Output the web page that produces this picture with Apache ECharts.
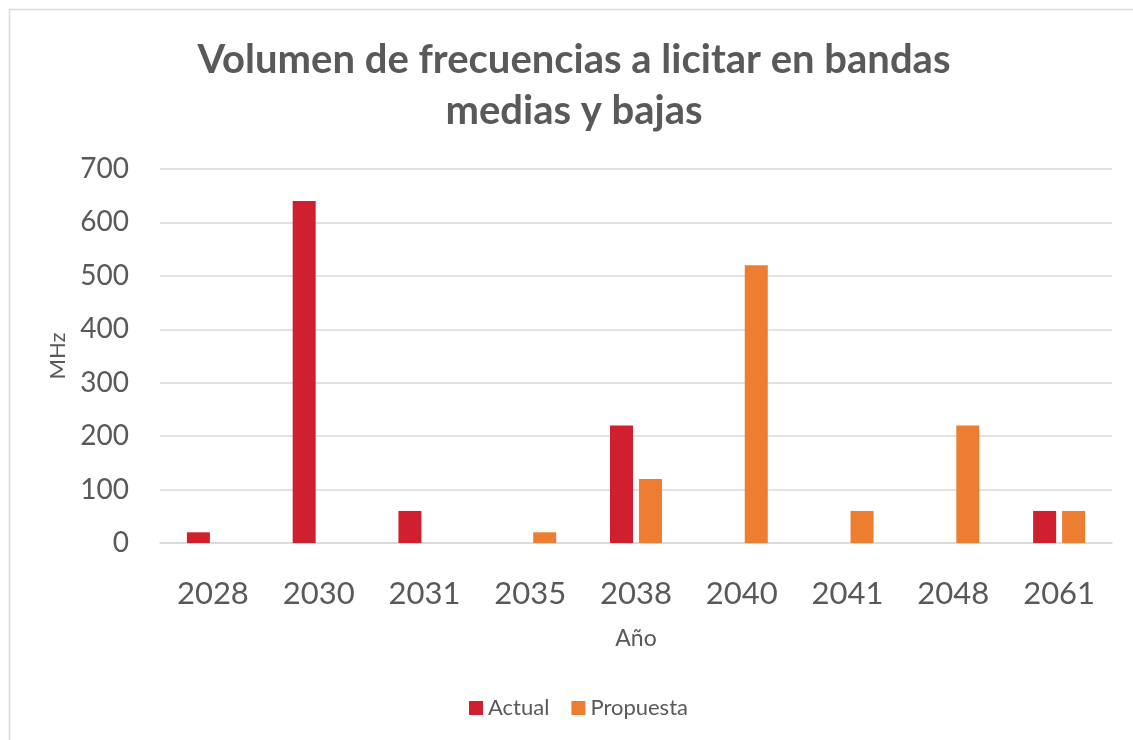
<!DOCTYPE html>
<html>
<head>
<meta charset="utf-8">
<script src="https://cdn.jsdelivr.net/npm/echarts@6/dist/echarts.min.js"></script>
<style>
html,body{margin:0;padding:0;background:#fff;}
#chart{width:1133px;height:740px;}
</style>
</head>
<body>
<div id="chart"></div>
<script>
var categories = ['2028','2030','2031','2035','2038','2040','2041','2048','2061'];
var actual =    [20, 640, 60, null, 220, null, null, null, 60];
var propuesta = [null, null, null, 20, 120, 520, 60, 220, 60];
var yTicks = { min: 0, max: 700, interval: 100 };
var titleText = 'Volumen de frecuencias a licitar en bandas\nmedias y bajas';

var font = 'Lato';
var textColor = '#595959';
var chart = echarts.init(document.getElementById('chart'));
chart.setOption({
  backgroundColor: '#ffffff',
  animation: false,
  graphic: [{
    type: 'rect', left: 7, top: 7, silent: true,
    shape: { width: 1140, height: 750 },
    style: { fill: 'none', stroke: '#d9d9d9', lineWidth: 1.5 }
  }, {
    type: 'text', x: 574, y: 35, silent: true,
    style: {
      text: titleText, textAlign: 'center', textVerticalAlign: 'top',
      fontFamily: font, fontWeight: 'bold', fontSize: 40, lineHeight: 51, fill: textColor
    }
  }],
  legend: {
    bottom: 16, left: 464,
    itemWidth: 14, itemHeight: 14, itemGap: 22,
    icon: 'rect',
    textStyle: { fontFamily: font, fontSize: 22, color: textColor },
    data: ['Actual', 'Propuesta']
  },
  grid: { left: 160, right: 21, top: 169, bottom: 197, containLabel: false },
  xAxis: {
    type: 'category', data: categories,
    name: 'Año', nameLocation: 'middle', nameGap: 84,
    nameTextStyle: { fontFamily: font, fontSize: 23, color: textColor },
    axisLine: { show: true, lineStyle: { color: '#d9d9d9', width: 1.5 } },
    axisTick: { show: false },
    axisLabel: { fontFamily: font, fontSize: 31, color: textColor, margin: 35 }
  },
  yAxis: {
    type: 'value', min: yTicks.min, max: yTicks.max, interval: yTicks.interval,
    name: 'MHz', nameLocation: 'middle', nameGap: 91,
    nameTextStyle: { fontFamily: font, fontSize: 22, color: textColor },
    axisLine: { show: false }, axisTick: { show: false },
    axisLabel: { fontFamily: font, fontSize: 28, color: textColor, margin: 31 },
    splitLine: { lineStyle: { color: '#d9d9d9', width: 1.5 } }
  },
  series: [
    { name: 'Actual', type: 'bar', data: actual, barWidth: 23, barGap: '26%',
      itemStyle: { color: '#d01f2e' } },
    { name: 'Propuesta', type: 'bar', data: propuesta, barWidth: 23,
      itemStyle: { color: '#ed7d31' } }
  ]
});
</script>
</body>
</html>
